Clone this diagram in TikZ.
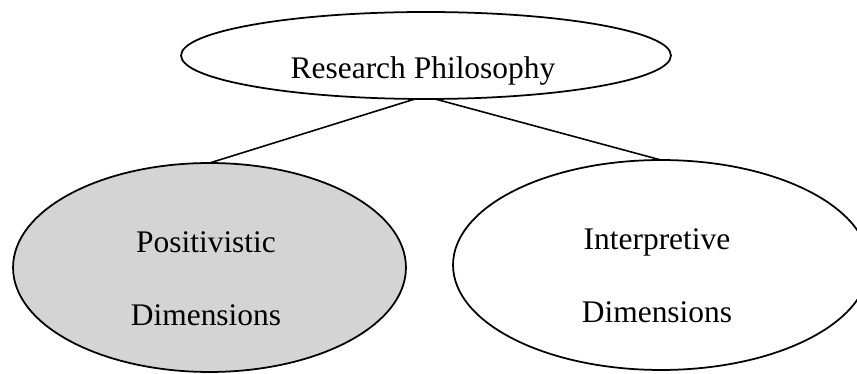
\documentclass[tikz,border=0pt]{standalone}
\usepackage{fontspec}
\setmainfont{Liberation Serif}
\usetikzlibrary{shapes.geometric}

\begin{document}
\begin{tikzpicture}[x=0.02cm,y=-0.02cm,line cap=round,
  bubble/.style={ellipse,draw,line width=1pt,inner sep=0pt,outer sep=0pt},
  caption/.style={font=\fontsize{17.9}{41}\selectfont,align=center,inner sep=0pt,anchor=base}]
\useasboundingbox (0,0) rectangle (857,374);
% the three bubbles
\node[bubble,minimum width=9.8cm,minimum height=1.74cm] (rp) at (426,55.5) {};
\node[bubble,fill=black!17,minimum width=7.86cm,minimum height=4.18cm] (pd) at (209.5,267.5) {};
\node[bubble,minimum width=8.32cm,minimum height=4.2cm] (id) at (661,265) {};
% texts (base = last line)
\node[caption] (rptext) at (423,79) {Research Philosophy};
\node[caption] (pdtext) at (206,325) {Positivistic\\Dimensions};
\node[caption] (idtext) at (657,322) {Interpretive\\Dimensions};
% connectors
\draw[line width=0.9pt] ([xshift=-0.22cm]rp.south) -- (pd.north);
\draw[line width=0.9pt] ([xshift=0.18cm]rp.south) -- (id.north);
\end{tikzpicture}
\end{document}
